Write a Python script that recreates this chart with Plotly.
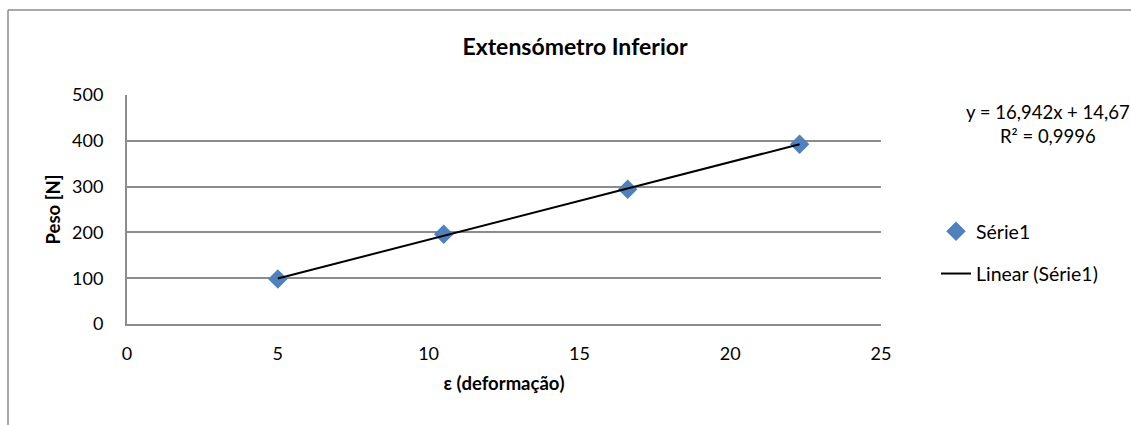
import plotly.graph_objects as go

# Measured strain readings and applied loads
deformacao = [5.0, 10.5, 16.6, 22.3]
peso = [98.1, 196.2, 294.3, 392.4]

# Linear trendline reported on the chart
slope = 16.942
intercept = 14.67
r2_label = "R² = 0,9996"
eq_label = "y = 16,942x + 14,67"

x_ticks = [0, 5, 10, 15, 20, 25]
y_ticks = [0, 100, 200, 300, 400, 500]

FONT = "Lato, Calibri, 'Open Sans', sans-serif"
GRID = "#8c8c8c"
BLUE = "#4F81BD"

trend_x = [min(deformacao), max(deformacao)]
trend_y = [slope * v + intercept for v in trend_x]

fig = go.Figure()
fig.add_trace(go.Scatter(
    x=deformacao, y=peso, mode="markers", name="Série1",
    marker=dict(symbol="diamond", size=15, color=BLUE, line=dict(width=0)),
    legendgroup="a",
))
fig.add_trace(go.Scatter(
    x=trend_x, y=trend_y, mode="lines", name="Linear (Série1)",
    line=dict(color="black", width=2),
    legendgroup="b",
))

W, H = 1131, 425
L, R, T, B = 127, 250, 95, 101
pw, ph = W - L - R, H - T - B


def px(xp):
    return (xp - L) / pw


def py(yp):
    return (H - B - yp) / ph


fig.update_layout(
    width=W, height=H,
    margin=dict(l=L, r=R, t=T, b=B),
    paper_bgcolor="white", plot_bgcolor="white",
    font=dict(family=FONT, size=18, color="black"),
    title=dict(text="<b>Extensómetro Inferior</b>", xref="container",
               x=575 / W, xanchor="center", yref="container",
               y=1 - 47 / H, yanchor="middle", font=dict(size=23)),
    showlegend=True,
    legend=dict(x=px(936), y=py(212), xanchor="left", yanchor="top",
                font=dict(size=19.5), tracegroupgap=14, bgcolor="rgba(0,0,0,0)"),
    xaxis=dict(range=[0, 25], tickvals=x_ticks, showgrid=False, zeroline=False,
               showline=True, linecolor=GRID, linewidth=2, ticks="",
               ticklabelstandoff=12,
               title=dict(text="<b>ε (deformação)</b>", font=dict(size=18.5), standoff=14)),
    yaxis=dict(range=[0, 500], tickvals=y_ticks, showgrid=True, gridcolor=GRID,
               gridwidth=2, zeroline=False, showline=True, linecolor=GRID,
               linewidth=2, ticks="", ticklabelstandoff=18,
               title=dict(text="<b>Peso [N]</b>", font=dict(size=18.5), standoff=7)),
    shapes=[
        # chart-area frame (left and top edges)
        dict(type="line", xref="paper", yref="paper", x0=px(8), x1=px(8),
             y0=py(10), y1=py(430), line=dict(color=GRID, width=1.5)),
        dict(type="line", xref="paper", yref="paper", x0=px(8), x1=px(1140),
             y0=py(10), y1=py(10), line=dict(color=GRID, width=1.5)),
    ],
    annotations=[
        # trendline equation and coefficient of determination
        dict(text=eq_label + "<br>" + r2_label, xref="paper", yref="paper",
             x=px(964), y=py(124), xanchor="left", yanchor="middle", align="center",
             showarrow=False, font=dict(size=18.5)),
    ],
)

fig.write_html("out.html")
